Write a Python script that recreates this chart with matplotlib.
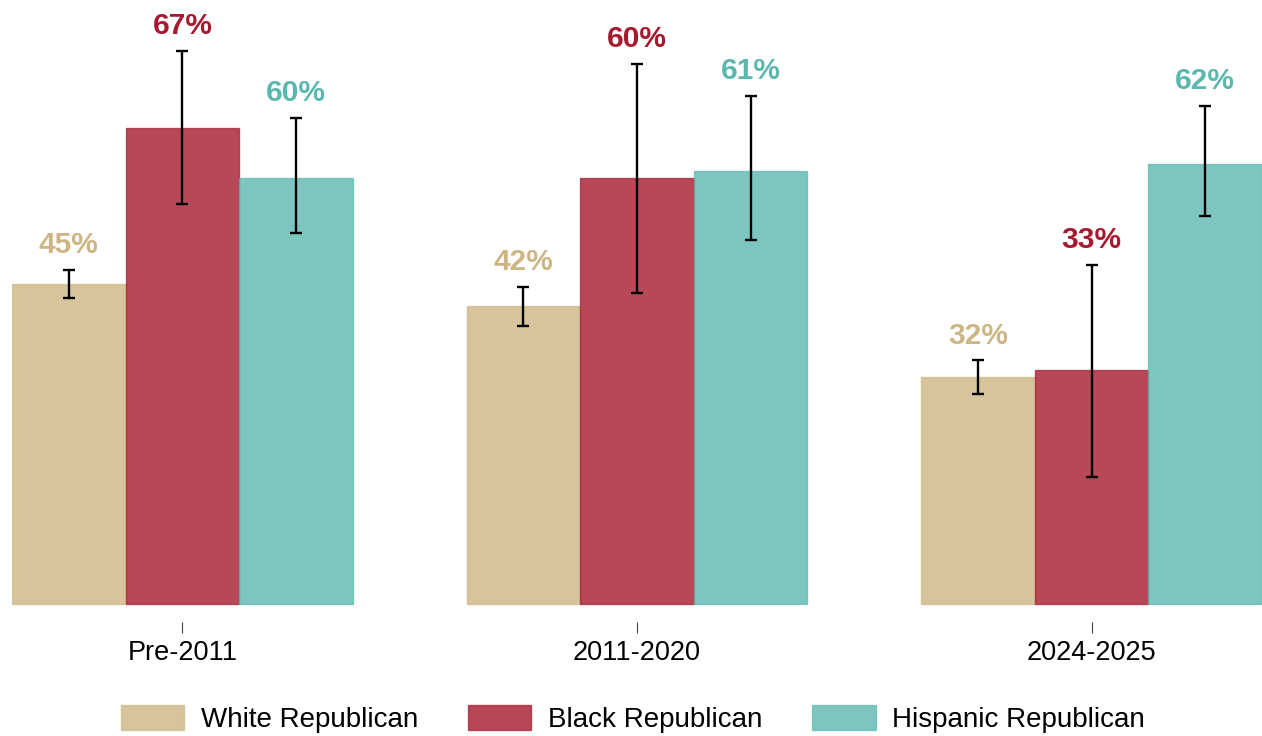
import matplotlib.pyplot as plt
import numpy as np
from matplotlib.colors import to_rgba

plt.rcParams['font.family'] = ['Liberation Sans', 'DejaVu Sans']

periods = ["Pre-2011", "2011-2020", "2024-2025"]
groups = ["White Republican", "Black Republican", "Hispanic Republican"]
colors = ["#CDB584", "#A6192E", "#5BB8AF"]

# share (%) per group, one list per period
white = [45, 42, 32]
black = [67, 60, 33]
hispanic = [60, 61, 62]

# confidence interval bounds
white_lo = [43.1, 39.2, 29.6]
white_hi = [47.1, 44.7, 34.3]
black_lo = [56.3, 43.8, 17.9]
black_hi = [77.9, 76.0, 47.7]
hispanic_lo = [52.2, 51.3, 54.6]
hispanic_hi = [68.5, 71.5, 70.2]

series = [
    (white, white_lo, white_hi),
    (black, black_lo, black_hi),
    (hispanic, hispanic_lo, hispanic_hi),
]

fig = plt.figure(figsize=(12.62, 7.36), dpi=100)
ax = fig.add_axes([12 / 1262, 0.1549, 1 - 12 / 1262, 0.8451])

x = np.arange(len(periods))
width = 0.25

for i, (vals, lo, hi) in enumerate(series):
    vals = np.array(vals, dtype=float)
    lo = np.array(lo)
    hi = np.array(hi)
    pos = x + (i - 1) * width
    ax.bar(pos, vals, width, color=to_rgba(colors[i], 0.8),
           edgecolor=to_rgba(colors[i], 0.7), linewidth=1.0,
           label=groups[i], zorder=2)
    ax.errorbar(pos, vals, yerr=[vals - lo, hi - vals], fmt="none",
                ecolor="black", elinewidth=1.7, capsize=4.5, capthick=1.7,
                zorder=3)
    for px, top, v in zip(pos, hi, vals):
        ax.annotate(f"{v:.0f}%", (px, top), xytext=(0, 12.2),
                    textcoords="offset points", ha="center", va="baseline",
                    fontsize=21.5, fontweight="bold", color=colors[i])

ax.set_xlim(-0.375, 2.375)
ax.set_ylim(-18 / 7.1, 604 / 7.1)
ax.set_xticks(x)
ax.set_xticklabels(periods, fontsize=19.5)
ax.set_yticks([])
ax.tick_params(axis="x", length=8, width=0.8, color="#444444", pad=5)
for s in ax.spines.values():
    s.set_visible(False)

fig.legend(loc="center", bbox_to_anchor=(0.5016, 0.023), ncol=3, frameon=False,
           fontsize=20, handlelength=2.27, handleheight=1.0,
           handletextpad=0.61, columnspacing=1.8)

fig.savefig("out.png", dpi=100)
